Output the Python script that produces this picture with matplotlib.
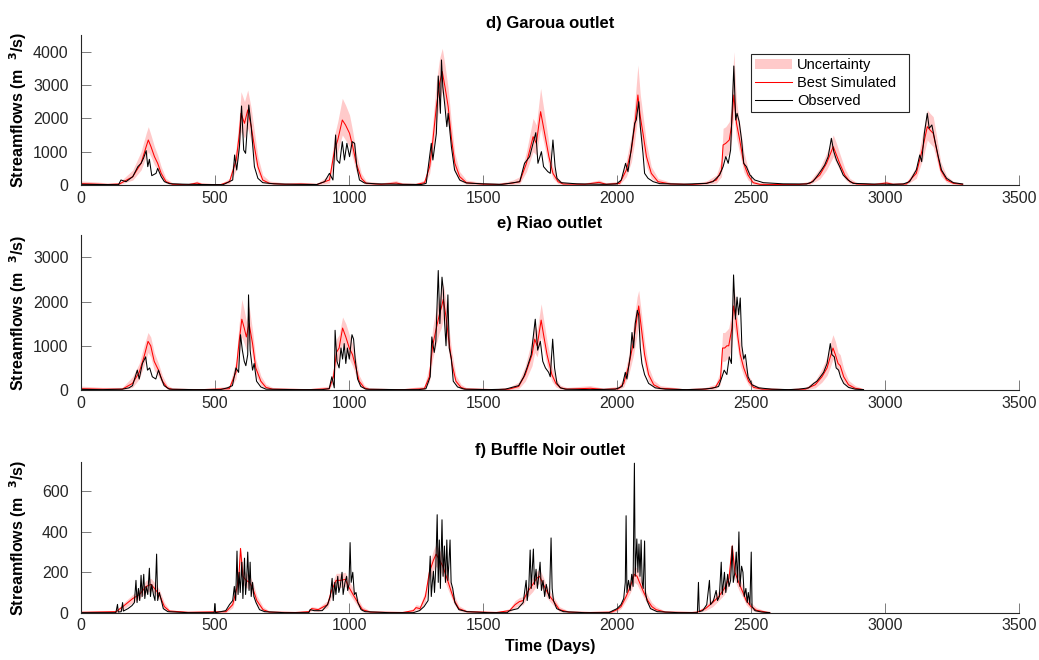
import matplotlib
matplotlib.use("Agg")
import matplotlib.pyplot as plt
import numpy as np

plt.rcParams['font.family'] = ['Liberation Sans', 'DejaVu Sans']

# ---- data (day, discharge m3/s) ----
# Garoua outlet
d_obs = [(0, 20), (60, 15), (140, 10), (149, 150), (168, 100), (193, 250), (212, 550), (224, 650),
         (233, 800), (243, 1030), (249, 550), (255, 770), (264, 280), (280, 350), (286, 500),
         (299, 250), (311, 100), (330, 40), (380, 25), (450, 15), (530, 10),
         (541, 50), (566, 150), (573, 900), (581, 450), (591, 1150), (599, 2370), (607, 1050),
         (614, 950), (626, 2400), (635, 1750), (647, 550), (660, 200), (678, 70), (720, 35),
         (800, 20), (880, 15),
         (909, 100), (927, 350), (940, 150), (950, 1500), (955, 750), (965, 650), (975, 1300),
         (983, 750), (992, 1250), (1002, 850), (1012, 1300), (1021, 1250), (1029, 550),
         (1039, 150), (1058, 60), (1100, 35), (1200, 20), (1270, 15),
         (1288, 50), (1307, 1250), (1313, 750), (1326, 1550), (1333, 3270), (1341, 2150),
         (1345, 3750), (1350, 2950), (1358, 2350), (1365, 1750), (1370, 2150), (1382, 1150),
         (1394, 450), (1413, 150), (1438, 60), (1500, 35), (1570, 20),
         (1599, 50), (1637, 100), (1655, 650), (1674, 850), (1697, 1570), (1705, 650),
         (1718, 1000), (1726, 550), (1742, 400), (1751, 350), (1761, 1350), (1769, 550),
         (1776, 200), (1792, 70), (1850, 35), (1950, 20),
         (1998, 30), (2016, 150), (2032, 650), (2041, 400), (2051, 950), (2066, 1850),
         (2072, 1950), (2081, 2500), (2087, 1750), (2097, 950), (2103, 350), (2116, 200),
         (2135, 100), (2160, 40), (2250, 25),
         (2334, 50), (2358, 100), (2383, 300), (2396, 550), (2406, 850), (2415, 650),
         (2424, 1050), (2436, 3570), (2443, 1950), (2448, 2150), (2456, 1900), (2465, 1350),
         (2473, 650), (2483, 550), (2496, 300), (2514, 150), (2546, 70), (2620, 35),
         (2707, 30), (2731, 100), (2750, 300), (2763, 450), (2775, 600), (2788, 850),
         (2800, 1400), (2809, 1000), (2819, 750), (2831, 550), (2844, 300), (2862, 150),
         (2881, 50), (2950, 30), (3030, 20),
         (3068, 30), (3092, 100), (3117, 450), (3130, 900), (3137, 700), (3147, 1550),
         (3158, 2150), (3165, 1700), (3175, 1800), (3186, 1350), (3199, 850), (3211, 450),
         (3230, 200), (3255, 70), (3290, 30)]

# (day, best simulated, lower bound, upper bound)
d_sim = [(0, 40, 10, 120), (60, 25, 5, 90), (100, 15, 5, 60), (143, 30, 10, 80),
         (193, 250, 150, 450), (224, 650, 450, 1000), (243, 1150, 850, 1550),
         (251, 1350, 1000, 1750), (261, 1150, 850, 1500), (274, 850, 600, 1150),
         (286, 650, 450, 900), (299, 350, 220, 550), (317, 100, 50, 200), (342, 20, 5, 60),
         (400, 10, 3, 40), (433, 60, 10, 120), (450, 20, 5, 60), (520, 10, 3, 30),
         (554, 100, 40, 200), (579, 750, 450, 1100), (591, 1550, 1100, 2100),
         (597, 2150, 1600, 2800), (610, 1850, 1400, 2500), (622, 2250, 1700, 2850),
         (635, 1750, 1300, 2300), (647, 1150, 800, 1600), (660, 550, 350, 850),
         (678, 150, 80, 300), (703, 50, 20, 120), (760, 20, 5, 60), (820, 30, 10, 80),
         (880, 15, 5, 50),
         (927, 150, 60, 300), (946, 1050, 700, 1500), (958, 1350, 1000, 1900),
         (975, 1950, 1500, 2600), (987, 1800, 1350, 2400), (1002, 1550, 1150, 2100),
         (1014, 1150, 800, 1600), (1027, 650, 400, 950), (1046, 200, 100, 350),
         (1064, 50, 20, 120), (1120, 20, 5, 60), (1176, 60, 10, 130), (1200, 20, 5, 60),
         (1250, 15, 5, 50),
         (1282, 70, 20, 150), (1301, 550, 350, 900), (1313, 1350, 1000, 1900),
         (1326, 2350, 1800, 3100), (1338, 3050, 2500, 3800), (1348, 3400, 2800, 4100),
         (1358, 2950, 2400, 3600), (1370, 2350, 1800, 2900), (1383, 1350, 950, 1800),
         (1395, 650, 400, 950), (1413, 250, 120, 400), (1438, 70, 25, 150),
         (1500, 25, 5, 70), (1560, 15, 5, 50),
         (1612, 60, 20, 150), (1637, 100, 40, 250), (1662, 650, 400, 1000),
         (1687, 1450, 1000, 2000), (1699, 1250, 900, 1800), (1715, 2200, 1700, 2900),
         (1730, 1550, 1150, 2100), (1746, 850, 550, 1250), (1761, 350, 200, 550),
         (1780, 100, 40, 200), (1799, 30, 10, 80), (1880, 20, 5, 60), (1933, 80, 20, 150),
         (1960, 20, 5, 60),
         (2010, 50, 15, 120), (2035, 450, 250, 750), (2054, 1050, 700, 1500),
         (2066, 1750, 1300, 2400), (2078, 2700, 2100, 3600), (2087, 2050, 1550, 2700),
         (2097, 1550, 1100, 2100), (2110, 850, 550, 1250), (2128, 350, 200, 550),
         (2153, 100, 40, 200), (2200, 30, 10, 80), (2280, 15, 5, 50),
         (2334, 50, 20, 120), (2371, 150, 60, 300), (2390, 450, 250, 750),
         (2396, 1200, 800, 1700), (2406, 1250, 850, 1750), (2419, 1350, 950, 1900),
         (2427, 1750, 1300, 2400), (2436, 2700, 2100, 4000), (2446, 1850, 1400, 2500),
         (2458, 1350, 950, 1850), (2473, 650, 400, 1000), (2489, 300, 150, 500),
         (2508, 70, 25, 150), (2533, 20, 5, 60), (2600, 15, 5, 50), (2680, 15, 5, 50),
         (2720, 50, 20, 120), (2757, 300, 180, 500), (2782, 650, 450, 950),
         (2807, 1150, 850, 1500), (2819, 900, 650, 1250), (2831, 650, 450, 950),
         (2850, 300, 180, 500), (2869, 100, 40, 200), (2894, 30, 10, 80),
         (2960, 15, 5, 50), (3006, 60, 10, 120), (3030, 20, 5, 60),
         (3080, 30, 10, 80), (3117, 350, 200, 550), (3142, 1150, 800, 1600),
         (3158, 1750, 1350, 2250), (3168, 1650, 1250, 2150), (3180, 1550, 1150, 2050),
         (3193, 1050, 750, 1450), (3208, 450, 280, 700), (3230, 150, 80, 280),
         (3255, 50, 20, 110), (3290, 20, 5, 60)]

# Riao outlet
e_obs = [(0, 15), (80, 10), (154, 20), (179, 50), (192, 100), (210, 450), (217, 250), (229, 600),
         (241, 750), (248, 450), (256, 500), (266, 300), (279, 250), (289, 450), (297, 300),
         (310, 100), (329, 20), (420, 10), (520, 10),
         (546, 50), (565, 100), (578, 500), (588, 400), (595, 1250), (602, 900), (609, 650),
         (615, 550), (622, 800), (625, 2150), (631, 900), (640, 450), (646, 600), (655, 200),
         (671, 70), (690, 20), (800, 10), (900, 10),
         (926, 30), (936, 300), (945, 50), (948, 1350), (955, 650), (963, 500), (970, 950),
         (976, 700), (982, 1050), (988, 600), (994, 950), (1001, 700), (1011, 1250),
         (1017, 1150), (1023, 700), (1032, 250), (1044, 80), (1063, 20), (1180, 10), (1260, 10),
         (1287, 30), (1303, 300), (1309, 1200), (1318, 850), (1324, 1100), (1333, 2700),
         (1339, 1500), (1347, 2550), (1352, 2250), (1357, 1500), (1362, 1000), (1369, 2150),
         (1374, 950), (1382, 700), (1389, 200), (1405, 70), (1430, 20), (1520, 10),
         (1583, 20), (1633, 100), (1652, 300), (1664, 500), (1680, 800), (1695, 1600),
         (1704, 900), (1714, 1100), (1723, 650), (1733, 500), (1745, 400), (1751, 300),
         (1760, 1150), (1767, 500), (1776, 150), (1789, 50), (1807, 20), (1900, 10),
         (1994, 20), (2019, 80), (2031, 400), (2037, 250), (2050, 800), (2056, 1300),
         (2062, 950), (2068, 1500), (2076, 1800), (2081, 1700), (2087, 950), (2093, 600),
         (2103, 350), (2118, 150), (2143, 50), (2180, 20), (2260, 10),
         (2317, 20), (2354, 40), (2379, 80), (2392, 300), (2400, 450), (2410, 350),
         (2419, 750), (2427, 600), (2435, 2600), (2442, 1600), (2448, 2100), (2454, 1700),
         (2460, 2080), (2466, 1000), (2473, 700), (2479, 800), (2489, 300), (2504, 120),
         (2529, 50), (2578, 20), (2640, 10),
         (2678, 20), (2715, 50), (2734, 150), (2746, 200), (2759, 300), (2771, 400),
         (2784, 600), (2796, 1050), (2802, 800), (2811, 750), (2818, 500), (2827, 450),
         (2834, 300), (2846, 150), (2864, 60), (2889, 20), (2920, 10)]

e_sim = [(0, 30, 5, 90), (80, 20, 5, 60), (154, 20, 5, 60), (192, 150, 60, 300),
         (217, 400, 250, 600), (235, 750, 550, 1000), (250, 1100, 850, 1300),
         (260, 1000, 750, 1200), (273, 650, 450, 850), (289, 450, 300, 600),
         (304, 200, 120, 320), (322, 50, 20, 110), (341, 15, 5, 50), (450, 10, 3, 30),
         (500, 20, 5, 50),
         (553, 30, 10, 90), (578, 400, 250, 650), (590, 1100, 800, 1500),
         (600, 1600, 1200, 2050), (609, 1400, 1050, 1800), (617, 1200, 900, 1550),
         (627, 1500, 1150, 1900), (640, 1050, 750, 1350), (652, 500, 320, 700),
         (671, 200, 110, 320), (690, 60, 20, 130), (715, 20, 5, 60), (850, 10, 3, 30),
         (926, 30, 10, 90), (942, 300, 180, 500), (953, 850, 600, 1150), (963, 950, 700, 1250),
         (976, 1400, 1050, 1650), (988, 1200, 900, 1500), (1001, 950, 700, 1250),
         (1013, 800, 550, 1050), (1026, 500, 320, 700), (1038, 200, 110, 330),
         (1057, 50, 20, 110), (1075, 15, 5, 50), (1200, 10, 3, 30),
         (1281, 30, 10, 90), (1300, 300, 180, 550), (1312, 1000, 700, 1400),
         (1324, 1350, 1000, 1800), (1337, 1700, 1300, 2100), (1344, 1850, 1400, 2250),
         (1352, 2050, 1600, 2400), (1362, 1650, 1250, 2000), (1372, 1150, 850, 1450),
         (1384, 600, 400, 850), (1399, 200, 110, 330), (1418, 60, 20, 130),
         (1437, 20, 5, 60), (1550, 10, 3, 30),
         (1596, 20, 5, 60), (1633, 80, 30, 180), (1658, 350, 200, 550), (1683, 800, 550, 1150),
         (1693, 1150, 850, 1500), (1702, 1000, 750, 1350), (1717, 1580, 1200, 1950),
         (1726, 1250, 950, 1600), (1739, 800, 550, 1100), (1757, 350, 200, 550),
         (1772, 150, 70, 260), (1789, 50, 20, 110), (1813, 20, 5, 60), (1900, 40, 10, 100),
         (1950, 15, 5, 40),
         (2006, 30, 10, 90), (2025, 150, 70, 280), (2044, 550, 350, 800),
         (2062, 1100, 800, 1500), (2075, 1650, 1250, 2100), (2081, 1900, 1450, 2250),
         (2091, 1400, 1050, 1750), (2103, 800, 550, 1100), (2118, 350, 200, 520),
         (2137, 120, 50, 220), (2162, 40, 10, 100), (2250, 10, 3, 30),
         (2330, 20, 5, 60), (2367, 60, 20, 130), (2386, 250, 130, 420), (2394, 950, 650, 1300),
         (2402, 950, 650, 1300), (2410, 1000, 700, 1350), (2417, 1000, 700, 1400),
         (2429, 1400, 1000, 1800), (2435, 1900, 1450, 2350), (2444, 1600, 1200, 2000),
         (2451, 1200, 900, 1550), (2460, 800, 550, 1100), (2473, 500, 320, 700),
         (2491, 200, 110, 330), (2510, 60, 20, 130), (2541, 20, 5, 60), (2640, 10, 3, 30),
         (2703, 20, 5, 60), (2740, 120, 50, 220), (2765, 300, 180, 480), (2784, 500, 330, 750),
         (2796, 750, 520, 1050), (2806, 950, 700, 1250), (2815, 800, 580, 1100),
         (2825, 600, 420, 850), (2833, 550, 380, 800), (2846, 300, 180, 480),
         (2864, 120, 50, 220), (2889, 40, 10, 100), (2920, 10, 3, 30)]

# Buffle Noir outlet
f_obs = [(0, 0), (130, 0), (136, 41), (139, 3), (150, 5), (155, 50), (158, 8), (175, 20), (190, 35),
         (199, 50), (205, 160), (209, 50), (214, 120), (219, 60), (224, 185), (228, 80),
         (234, 190), (238, 70), (243, 130), (249, 90), (255, 220), (259, 80), (264, 140),
         (270, 90), (276, 60), (282, 290), (286, 60), (292, 100), (298, 70), (307, 20),
         (324, 5), (400, 0),
         (497, 0), (499, 45), (502, 0), (540, 10), (554, 40), (566, 60), (572, 130), (577, 60),
         (582, 305), (586, 90), (590, 200), (594, 100), (600, 250), (604, 70), (610, 270),
         (614, 90), (618, 160), (622, 300), (627, 110), (631, 250), (635, 80), (640, 150),
         (645, 80), (653, 50), (666, 15), (685, 5), (760, 0),
         (850, 0), (855, 15), (870, 10), (900, 10), (920, 40), (930, 80), (937, 170), (941, 60),
         (947, 150), (951, 90), (958, 180), (962, 100), (967, 130), (974, 200), (978, 90),
         (985, 150), (991, 180), (995, 110), (1000, 140), (1004, 347), (1008, 150), (1014, 200),
         (1020, 90), (1026, 100), (1033, 50), (1045, 15), (1060, 5), (1150, 0),
         (1240, 0), (1263, 10), (1280, 30), (1295, 60), (1303, 280), (1307, 80), (1311, 150),
         (1315, 205), (1319, 100), (1324, 230), (1329, 485), (1333, 150), (1337, 360),
         (1341, 120), (1347, 460), (1351, 180), (1356, 330), (1360, 150), (1365, 360),
         (1369, 160), (1373, 250), (1377, 360), (1381, 150), (1387, 120), (1395, 50),
         (1410, 15), (1440, 5), (1520, 0),
         (1590, 0), (1599, 10), (1630, 20), (1650, 50), (1661, 160), (1665, 60), (1671, 130),
         (1676, 310), (1680, 120), (1688, 315), (1692, 140), (1698, 215), (1703, 120),
         (1708, 180), (1713, 250), (1718, 110), (1724, 160), (1730, 80), (1736, 140),
         (1742, 100), (1748, 70), (1754, 370), (1758, 120), (1763, 60), (1775, 20),
         (1800, 5), (1880, 0),
         (1970, 0), (1984, 10), (2000, 20), (2015, 40), (2025, 70), (2031, 150), (2034, 480),
         (2037, 100), (2043, 160), (2049, 110), (2055, 190), (2060, 130), (2065, 740),
         (2068, 180), (2074, 365), (2078, 200), (2082, 340), (2086, 180), (2090, 360),
         (2094, 150), (2098, 120), (2103, 355), (2106, 100), (2112, 60), (2125, 20),
         (2150, 5), (2230, 0),
         (2300, 0), (2304, 150), (2307, 5), (2320, 10), (2335, 40), (2345, 160), (2349, 40),
         (2360, 60), (2370, 110), (2375, 60), (2382, 80), (2389, 250), (2393, 90), (2401, 200),
         (2406, 100), (2413, 190), (2418, 130), (2424, 160), (2430, 330), (2434, 150),
         (2440, 200), (2445, 300), (2450, 150), (2455, 400), (2459, 130), (2465, 230),
         (2470, 200), (2475, 80), (2481, 120), (2486, 50), (2490, 100), (2496, 40),
         (2501, 300), (2504, 30), (2515, 10), (2540, 3), (2570, 0)]

f_sim = [(0, 2, 0, 5), (130, 5, 0, 10), (156, 30, 15, 45), (193, 70, 50, 90), (218, 90, 70, 115),
         (243, 130, 100, 160), (261, 140, 110, 170), (274, 120, 95, 150), (292, 90, 65, 115),
         (311, 30, 15, 50), (330, 8, 2, 15), (400, 2, 0, 5),
         (541, 5, 0, 12), (566, 40, 25, 60), (581, 120, 90, 150), (590, 200, 150, 250),
         (595, 318, 250, 330), (604, 180, 140, 220), (616, 160, 125, 195), (629, 150, 115, 185),
         (641, 120, 90, 150), (656, 60, 40, 85), (679, 15, 5, 30), (703, 3, 0, 8), (800, 1, 0, 3),
         (850, 5, 0, 12), (860, 20, 10, 30), (885, 15, 5, 25), (920, 40, 25, 60),
         (935, 110, 80, 140), (952, 160, 125, 195), (970, 160, 125, 195), (986, 165, 130, 200),
         (1000, 125, 95, 160), (1015, 90, 65, 120), (1033, 50, 30, 70), (1050, 15, 5, 30),
         (1080, 3, 0, 8), (1200, 1, 0, 3),
         (1240, 10, 3, 20), (1250, 25, 15, 40), (1265, 20, 10, 35), (1285, 80, 55, 110),
         (1300, 200, 160, 240), (1315, 260, 210, 310), (1325, 290, 230, 340),
         (1338, 260, 210, 310), (1350, 230, 180, 280), (1368, 160, 120, 200),
         (1380, 110, 80, 140), (1393, 60, 40, 85), (1410, 20, 10, 35), (1440, 5, 0, 12),
         (1550, 1, 0, 3),
         (1599, 10, 3, 20), (1620, 40, 25, 60), (1636, 55, 35, 75), (1650, 60, 40, 80),
         (1665, 100, 75, 130), (1686, 140, 105, 175), (1700, 170, 135, 205),
         (1711, 180, 145, 215), (1722, 150, 115, 185), (1736, 110, 80, 140),
         (1750, 80, 55, 105), (1767, 50, 30, 70), (1785, 15, 5, 30), (1820, 3, 0, 8),
         (1900, 1, 0, 3),
         (1980, 3, 0, 8), (2000, 15, 5, 25), (2015, 30, 20, 45), (2034, 80, 60, 110),
         (2050, 130, 100, 165), (2065, 190, 150, 230), (2075, 180, 140, 220),
         (2084, 150, 115, 185), (2100, 100, 75, 130), (2115, 60, 40, 85), (2130, 30, 15, 50),
         (2146, 15, 5, 30), (2180, 3, 0, 8), (2280, 1, 0, 3),
         (2300, 3, 0, 8), (2330, 20, 10, 35), (2357, 50, 30, 70), (2380, 80, 60, 110),
         (2401, 120, 90, 150), (2418, 170, 135, 205), (2430, 330, 270, 345),
         (2440, 200, 160, 240), (2457, 140, 105, 175), (2470, 100, 75, 130),
         (2482, 60, 40, 85), (2500, 30, 15, 50), (2520, 12, 3, 25), (2555, 3, 0, 8),
         (2570, 1, 0, 3)]

titles = ["d) Garoua outlet", "e) Riao outlet", "f) Buffle Noir outlet"]
ylims = [4500, 3500, 745]
yticks = [[0, 1000, 2000, 3000, 4000], [0, 1000, 2000, 3000], [0, 200, 400, 600]]
xticks = [0, 500, 1000, 1500, 2000, 2500, 3000, 3500]

# ---- figure ----
fig = plt.figure(figsize=(10.39, 6.60), dpi=100)
# axes boxes in figure fractions (left, bottom, width, height)
boxes = [[0.078, 0.7197, 0.9027, 0.2273],
         [0.078, 0.4090, 0.9027, 0.2348],
         [0.078, 0.0717, 0.9027, 0.2280]]

gray = '#262626'
for i, (obs, sim) in enumerate([(d_obs, d_sim), (e_obs, e_sim), (f_obs, f_sim)]):
    ax = fig.add_axes(boxes[i])
    ot, oq = np.array(obs).T
    st, sq, slo, shi = np.array(sim).T
    band = ax.fill_between(st, slo, shi, color='#ffcaca', linewidth=0, label='Uncertainty')
    red, = ax.plot(st, sq, color='red', lw=0.75, label='Best Simulated')
    blk, = ax.plot(ot, oq, color='black', lw=0.75, label='Observed')

    ax.set_xlim(0, 3500)
    ax.set_ylim(0, ylims[i])
    ax.set_xticks(xticks)
    ax.set_yticks(yticks[i])
    ax.spines['top'].set_visible(False)
    ax.spines['right'].set_visible(False)
    for s in ['left', 'bottom']:
        ax.spines[s].set_color(gray)
        ax.spines[s].set_linewidth(0.8)
    ax.tick_params(axis='x', direction='in', length=7, width=0.6, color='#666666',
                   labelcolor=gray, labelsize=11.5, pad=4)
    ax.tick_params(axis='y', direction='in', length=7, width=0.6, color='#666666',
                   labelcolor=gray, labelsize=11.5, pad=9)
    ax.set_title(titles[i], fontsize=12, fontweight='bold', pad=5)
    ax.set_ylabel(r'Streamflows (m  $^{\mathbf{3}}$/s)', fontsize=11.5, fontweight='bold')
    ax.yaxis.set_label_coords(-0.056, 0.5)

    if i == 0:
        ax.legend(handles=[band, red, blk], loc='upper left', mode='expand',
                  bbox_to_anchor=(0.714, 0.473, 0.169, 0.40), fontsize=10.5, frameon=True,
                  fancybox=False, edgecolor=gray, framealpha=1, borderpad=0.3,
                  handlelength=2.5, handletextpad=0.4, labelspacing=0.25,
                  borderaxespad=0)
        ax.get_legend().get_frame().set_linewidth(0.8)
    if i == 2:
        ax.set_xlabel('Time (Days)', fontsize=11.5, fontweight='bold', labelpad=4)

fig.savefig('out.png', dpi=100)
